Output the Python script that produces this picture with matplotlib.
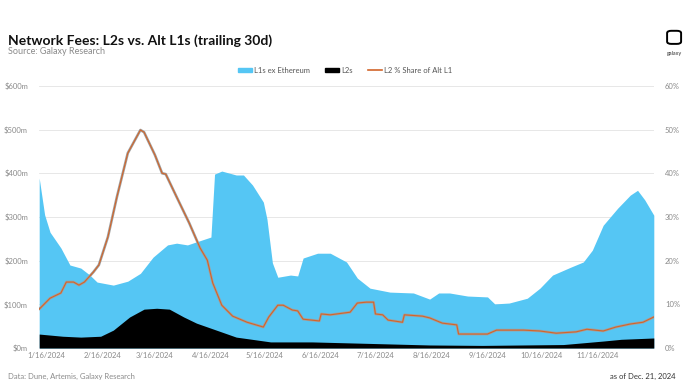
import matplotlib
matplotlib.use("Agg")
import matplotlib.pyplot as plt
import matplotlib.transforms as mtransforms
import pandas as pd
from matplotlib.patches import FancyBboxPatch, Rectangle
from matplotlib.lines import Line2D

matplotlib.rc("font", family="Lato")

# Data
l1_dates = ["2024-01-16", "2024-01-19", "2024-01-22", "2024-01-28", "2024-02-02", "2024-02-08",
            "2024-02-13", "2024-02-17", "2024-02-26", "2024-03-05", "2024-03-12", "2024-03-19",
            "2024-03-27", "2024-04-01", "2024-04-07", "2024-04-12", "2024-04-20", "2024-04-22",
            "2024-04-26", "2024-05-04", "2024-05-08", "2024-05-13", "2024-05-19", "2024-05-21",
            "2024-05-24", "2024-05-27", "2024-06-03", "2024-06-07", "2024-06-10", "2024-06-18",
            "2024-06-25", "2024-07-04", "2024-07-10", "2024-07-17", "2024-07-28", "2024-08-10",
            "2024-08-19", "2024-08-24", "2024-08-30", "2024-09-09", "2024-09-20", "2024-09-24",
            "2024-10-02", "2024-10-12", "2024-10-19", "2024-10-26", "2024-11-05", "2024-11-12",
            "2024-11-17", "2024-11-23", "2024-12-01", "2024-12-08", "2024-12-12", "2024-12-16",
            "2024-12-21"]
l1_fees = [389, 305, 265, 229, 190, 183,
           167, 151, 144, 153, 171, 208,
           236, 240, 236, 243, 254, 398,
           405, 396, 396, 373, 334, 295,
           195, 162, 167, 165, 206, 217,
           217, 197, 160, 137, 128, 126,
           112, 126, 126, 119, 117, 101,
           103, 114, 137, 167, 185, 197,
           224, 281, 320, 350, 361, 339,
           304]

l2_dates = ["2024-01-16", "2024-01-29", "2024-02-08", "2024-02-19", "2024-02-26", "2024-03-06",
            "2024-03-14", "2024-03-21", "2024-03-28", "2024-04-05", "2024-04-12", "2024-04-23",
            "2024-05-04", "2024-05-11", "2024-05-23", "2024-06-15", "2024-07-13", "2024-08-19",
            "2024-09-17", "2024-11-01", "2024-11-23", "2024-12-03", "2024-12-21"]
l2_fees = [32, 27, 25, 27, 41, 71,
           89, 91, 89, 71, 57, 41,
           25, 21, 14, 14, 11, 7,
           6, 8, 16, 20, 23]

share_dates = ["2024-01-16", "2024-01-22", "2024-01-28", "2024-01-31", "2024-02-04", "2024-02-07",
               "2024-02-10", "2024-02-15", "2024-02-18", "2024-02-23", "2024-02-28", "2024-03-05",
               "2024-03-12", "2024-03-14", "2024-03-20", "2024-03-24", "2024-03-26", "2024-04-01",
               "2024-04-08", "2024-04-14", "2024-04-18", "2024-04-21", "2024-04-26", "2024-05-02",
               "2024-05-10", "2024-05-19", "2024-05-22", "2024-05-27", "2024-05-30", "2024-06-04",
               "2024-06-07", "2024-06-10", "2024-06-19", "2024-06-20", "2024-06-25", "2024-07-06",
               "2024-07-10", "2024-07-15", "2024-07-19", "2024-07-20", "2024-07-24", "2024-07-27",
               "2024-08-04", "2024-08-05", "2024-08-15", "2024-08-19", "2024-08-26", "2024-09-03",
               "2024-09-04", "2024-09-20", "2024-09-25", "2024-10-10", "2024-10-19", "2024-10-28",
               "2024-11-08", "2024-11-14", "2024-11-23", "2024-11-30", "2024-12-08", "2024-12-15",
               "2024-12-21"]
l2_share = [8.9, 11.4, 12.6, 15.1, 15.1, 14.4,
            15.1, 17.4, 19.0, 25.4, 34.6, 44.6,
            49.9, 49.4, 44.2, 40.0, 39.8, 34.6,
            28.6, 22.9, 20.1, 14.9, 9.8, 7.3,
            5.9, 4.8, 7.1, 9.8, 9.8, 8.7,
            8.5, 6.6, 6.2, 7.8, 7.6, 8.2,
            10.3, 10.5, 10.5, 7.8, 7.6, 6.4,
            5.9, 7.6, 7.3, 6.9, 5.7, 5.3,
            3.2, 3.2, 4.1, 4.1, 3.9, 3.4,
            3.7, 4.3, 3.9, 4.8, 5.5, 5.9,
            7.1]

tick_dates = ["2024-01-16", "2024-02-16", "2024-03-16", "2024-04-16", "2024-05-16", "2024-06-16",
              "2024-07-16", "2024-08-16", "2024-09-16", "2024-10-16", "2024-11-16"]

blue = "#55c6f4"
orange = "#d2652a"
gray_txt = "#8a8a8a"

fig = plt.figure(figsize=(7, 3.85), dpi=100)
ax = fig.add_axes([0.056, 0.096, 0.878, 0.681])
ax2 = ax.twinx()

ax.fill_between(pd.to_datetime(l1_dates), 0, l1_fees, color=blue, lw=0, zorder=2)
ax.fill_between(pd.to_datetime(l2_dates), 0, l2_fees, color="black", lw=0, zorder=3)
ax.set_ylim(0, 600)
ax.set_yticks(range(0, 601, 100))
ax.set_yticklabels(["$%dm" % v for v in range(0, 601, 100)])
ax.grid(axis="y", color="#e3e3e3", lw=0.6, zorder=0)
ax.set_axisbelow(True)

ax2.plot(pd.to_datetime(share_dates), l2_share, color="#a0a0a0", lw=1.9, solid_capstyle="round", zorder=4)
ax2.plot(pd.to_datetime(share_dates), l2_share, color=orange, lw=0.8, zorder=5)
ax2.set_ylim(0, 60)
ax2.set_yticks(range(0, 61, 10))
ax2.set_yticklabels(["%d%%" % v for v in range(0, 61, 10)])

ax.set_xlim(pd.Timestamp("2024-01-16"), pd.Timestamp("2024-12-21"))
ax.set_xticks(pd.to_datetime(tick_dates))
ax.set_xticklabels([f"{d.month}/{d.day}/{d.year}" for d in pd.to_datetime(tick_dates)])

for a in (ax, ax2):
    for s in a.spines.values():
        s.set_visible(False)
    a.tick_params(length=0, labelsize=5.5, labelcolor=gray_txt)
ax.tick_params(axis="y", pad=8)
ax2.tick_params(axis="y", pad=8)
ax.tick_params(axis="x", pad=3)

# x labels sit a little right of their dates
shift = mtransforms.ScaledTranslation(7 / 100, 0, fig.dpi_scale_trans)
for lbl in ax.get_xticklabels():
    lbl.set_transform(lbl.get_transform() + shift)

# Titles
fig.text(0.011, 0.895, "Network Fees: L2s vs. Alt L1s (trailing 30d)", fontsize=10,
         fontweight="bold", color="#111111", va="center")
fig.text(0.011, 0.878, "Source: Galaxy Research", fontsize=6.5, color=gray_txt, va="top")

# Legend
handles = [Rectangle((0, 0), 1, 1, color=blue), Rectangle((0, 0), 1, 1, color="black"),
           Line2D([0], [0], color=orange, lw=1.2)]
fig.legend(handles, ["L1s ex Ethereum", "L2s", "L2 % Share of Alt L1"], loc="center",
           bbox_to_anchor=(0.493, 0.818), ncol=3, frameon=False, fontsize=5.5,
           handlelength=1.8, handleheight=0.45, handletextpad=0.3, columnspacing=2.0,
           labelcolor="#555555")

# Logo
fig.patches.append(FancyBboxPatch((0.955, 0.888), 0.016, 0.03, boxstyle="round,pad=0.002,rounding_size=0.006",
                                  transform=fig.transFigure, fill=False, ec="black", lw=1.4))
fig.text(0.963, 0.862, "galaxy", fontsize=4, ha="center", va="center", color="#333333")

# Footer
fig.text(0.011, 0.022, "Data: Dune, Artemis, Galaxy Research", fontsize=5.5, color=gray_txt, va="center")
fig.text(0.965, 0.022, "as of Dec. 21, 2024", fontsize=5.5, color="#333333", va="center", ha="right")

fig.savefig("out.png", dpi=100)
